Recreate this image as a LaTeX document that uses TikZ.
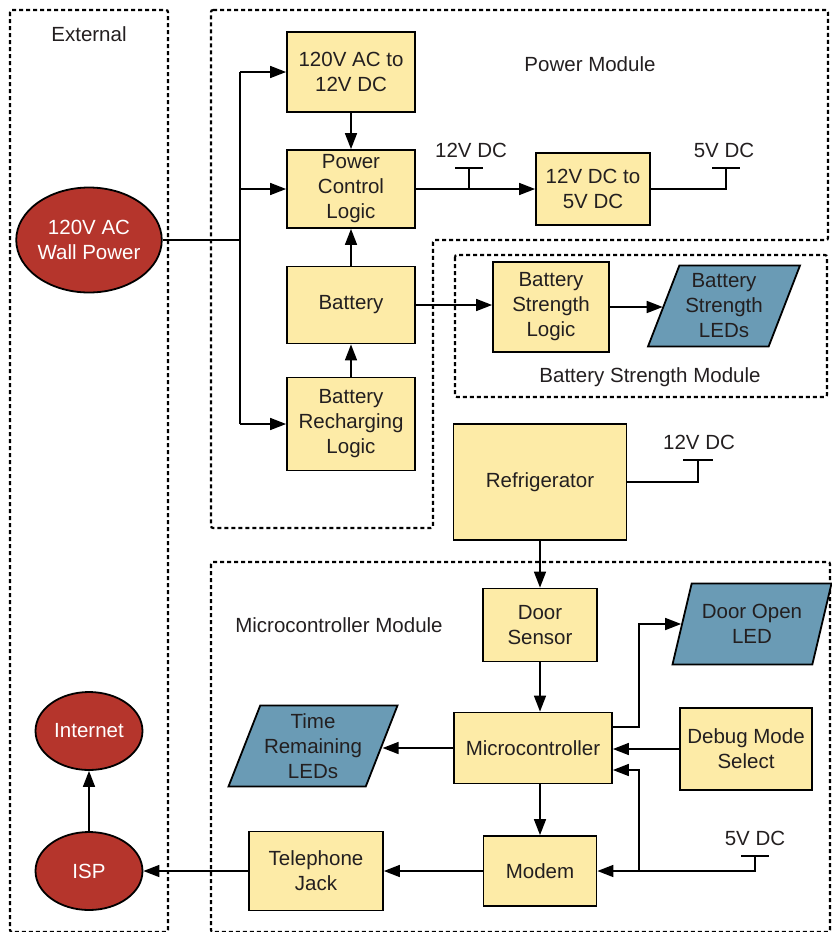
\documentclass[tikz,border=0pt]{standalone}
\usepackage{fontspec}
\setmainfont{Liberation Sans}
\usepackage{xcolor}
\usetikzlibrary{arrows.meta,positioning,calc,shapes.geometric}
\definecolor{boxyellow}{HTML}{FDEBA7}
\definecolor{ledblue}{HTML}{6A9BB5}
\definecolor{extred}{HTML}{B5352C}
\definecolor{inkgray}{HTML}{231F20}

\begin{document}
\begin{tikzpicture}[x=1pt, y=-1pt,
  font=\fontsize{20.5}{25}\selectfont,
  blk/.style={draw, line width=1.8pt, fill=boxyellow, align=center, inner sep=0pt, text=inkgray},
  led/.style={trapezium, trapezium left angle=64, trapezium right angle=116,
              trapezium stretches body, draw, line width=1.8pt, fill=ledblue,
              align=center, inner sep=0pt, minimum height=81pt, text=inkgray},
  ext/.style={ellipse, draw, line width=1.8pt, fill=extred, text=white, align=center, inner sep=0pt},
  frame/.style={draw, line width=2.2pt, dash pattern=on 4pt off 3pt, rounded corners=2pt},
  arr/.style={-{Triangle[length=16pt,width=12pt]}, line width=1.6pt},
  wire/.style={line width=1.6pt},
  lbl/.style={text=inkgray}
]
  \useasboundingbox (0,0) rectangle (832,932);
  \clip (0,0) rectangle (832,932);

  \draw[frame] (10,10) rectangle (168,932);
  \draw[frame] (211,10) -- (828,10) -- (828,240) -- (433,240) -- (433,528) -- (211,528) -- cycle;
  \draw[frame] (455,255) rectangle (827,397);
  \draw[frame] (211,562) rectangle (830,932);

  \node[lbl] (extlbl) at (89,34) {External};
  \node[lbl] (pwrlbl) at (590,64) {Power Module};
  \node[lbl] (bsmlbl) at (650,377) {Battery Strength Module};
  \node[lbl] (mcmlbl) at (339,625) {Microcontroller Module};

  \node[blk, minimum width=128pt, minimum height=80pt] (ac) at (351,72) {120V AC to\\12V DC};
  \node[blk, minimum width=128pt, minimum height=78pt] (pcl) at (351,189) {Power\\Control\\Logic};
  \node[blk, minimum width=128pt, minimum height=77pt] (bat) at (351,305) {Battery};
  \node[blk, minimum width=128pt, minimum height=93pt] (rch) at (351,424) {Battery\\Recharging\\Logic};
  \node[blk, minimum width=114pt, minimum height=72pt] (dcdc) at (593,189) {12V DC to\\5V DC};
  \node[blk, minimum width=116pt, minimum height=90pt] (bsl) at (551,307) {Battery\\Strength\\Logic};
  \node[led, minimum width=152pt] (bsled) at (724,306) {Battery\\Strength\\LEDs};
  \node[blk, minimum width=173pt, minimum height=116pt] (fridge) at (540,482) {Refrigerator};
  \node[blk, minimum width=114pt, minimum height=73pt] (ds) at (540,625) {Door\\Sensor};
  \node[led, minimum width=159pt] (dol) at (752,624) {Door Open\\LED};
  \node[blk, minimum width=158pt, minimum height=71pt] (mc) at (533,748) {Microcontroller};
  \node[blk, minimum width=132pt, minimum height=82pt] (dbg) at (746,749) {Debug Mode\\Select};
  \node[led, minimum width=169pt] (trl) at (313,746) {Time\\Remaining\\LEDs};
  \node[blk, minimum width=113pt, minimum height=70pt] (md) at (540,871) {Modem};
  \node[blk, minimum width=134pt, minimum height=79pt] (tj) at (316,871) {Telephone\\Jack};
  \node[ext, minimum width=130pt, minimum height=105pt] (wall) at (89,240) {120V AC\\Wall Power};
  \node[ext, minimum width=107pt, minimum height=78pt] (inet) at (89,731) {Internet};
  \node[ext, minimum width=107pt, minimum height=78pt] (isp) at (89,871) {ISP};

  \coordinate (split) at (240,240);
  \draw[wire] (wall.east) -- (split);
  \draw[wire] (split |- ac.west) -- (split |- rch.west);
  \draw[arr] (split |- ac.west) -- (ac.west);
  \draw[arr] (split |- pcl.west) -- (pcl.west);
  \draw[arr] (split |- rch.west) -- (rch.west);
  \draw[arr] (ac) -- (pcl);
  \draw[arr] (bat) -- (pcl);
  \draw[arr] (rch) -- (bat);
  \draw[arr] (pcl) -- (dcdc);

  \coordinate (v12a) at (469,168);
  \draw[wire] (v12a |- pcl.east) -- (v12a);
  \draw[wire] ([xshift=-14pt]v12a) -- ([xshift=14pt]v12a);
  \node[lbl] (v12alb) at (471,150) {12V DC};
  \coordinate (v5a) at (726,168);
  \draw[wire] (dcdc.east) -| (v5a);
  \draw[wire] ([xshift=-14pt]v5a) -- ([xshift=14pt]v5a);
  \node[lbl] (v5alb) at (724,150) {5V DC};

  \draw[arr] (bat.east) -- (bat.east -| bsl.west);
  \draw[arr] (bsl.east) -- (bsl.east -| bsled.west);

  \coordinate (v12b) at (698,460);
  \draw[wire] (fridge.east) -| (v12b);
  \draw[wire] ([xshift=-15pt]v12b) -- ([xshift=15pt]v12b);
  \node[lbl] (v12blb) at (699,442) {12V DC};

  \draw[arr] (fridge) -- (ds);
  \draw[arr] (ds.south) -- (ds.south |- mc.north);
  \coordinate (tap) at (639,871);
  \draw[arr] ([yshift=21pt]mc.east) -| (tap |- dol.west) -- (dol.west);
  \draw[arr] (dbg.west) -- (dbg.west -| mc.east);
  \coordinate (v5b) at (755,856);
  \draw[wire] ([xshift=-14pt]v5b) -- ([xshift=14pt]v5b);
  \node[lbl] (v5blb) at (755,838) {5V DC};
  \draw[arr] (v5b) |- (md.east);
  \draw[arr] (tap) |- ([yshift=-22pt]mc.east);
  \draw[arr] (mc.south -| md.north) -- (md.north);
  \draw[arr] (mc.west) -- (mc.west -| trl.east);
  \draw[arr] (md) -- (tj);
  \draw[arr] (tj) -- (isp);
  \draw[arr] (isp) -- (inet);
\end{tikzpicture}
\end{document}
